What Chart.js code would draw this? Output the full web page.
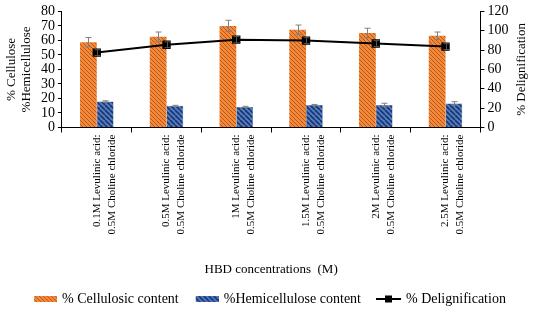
<!DOCTYPE html>
<html>
<head>
<meta charset="utf-8">
<script src="https://cdn.jsdelivr.net/npm/chart.js@4.4.1/dist/chart.umd.min.js"></script>
<style>
  html, body { margin: 0; padding: 0; background: #fff; }
  #wrap { width: 533px; height: 313px; }
</style>
</head>
<body>
<div id="wrap"><canvas id="my-chart" width="533" height="313"></canvas></div>
<script>
'use strict';

// ******* DATA *********
let categories = [
  ['0.1M Levulinic acid:', '0.5M Choline chloride'],
  ['0.5M Levulinic acid:', '0.5M Choline chloride'],
  ['1M Levulinic acid:', '0.5M Choline chloride'],
  ['1.5M Levulinic acid:', '0.5M Choline chloride'],
  ['2M Levulinic acid:', '0.5M Choline chloride'],
  ['2.5M Levulinic acid:', '0.5M Choline chloride']
];
let celluloseValues = [58.8, 62.5, 70.0, 67.3, 65.1, 63.2];
let celluloseErrors = [3.2, 3.3, 3.9, 3.3, 3.3, 2.6];
let hemiValues = [17.9, 14.9, 14.2, 15.5, 15.5, 16.6];
let hemiErrors = [0.5, 0.4, 0.4, 0.4, 1.2, 1.2];
let delignValues = [77.4, 85.5, 90.8, 89.8, 86.8, 83.6];
let delignErrors = [3.0, 3.0, 3.2, 3.0, 3.0, 3.0];
let leftTicks = [0, 80, 10];   // min, max, step
let rightTicks = [0, 120, 20];
let rightTitle = '% Delignification';

const FONT = "'Liberation Serif', 'Times New Roman', serif";

// ******* HATCH PATTERNS *******
function makeHatch(base, stripe, lineW, gap) {
  let c = document.createElement('canvas');
  c.width = gap;
  c.height = gap;
  let g = c.getContext('2d');
  g.fillStyle = base;
  g.fillRect(0, 0, gap, gap);
  g.strokeStyle = stripe;
  g.lineWidth = lineW;
  // "\" direction diagonal stripes, tiled
  for (let k = -1; k <= 1; k++) {
    g.beginPath();
    g.moveTo(k * gap, 0);
    g.lineTo(k * gap + gap, gap);
    g.stroke();
  }
  return g.createPattern(c, 'repeat');
}

let ctx = document.getElementById('my-chart');
let orangeHatch = makeHatch('#f08a3c', '#c4530f', 1, 4);
let blueHatch = makeHatch('#4f7dcc', '#1d3461', 1.6, 5);

// ******* LEGEND MARKERS *******
// the marker sits at the right end of a slightly wider image so it ends up close to its text
const MARK_W = 30;
function legendBox(fill) {
  let c = document.createElement('canvas');
  c.width = MARK_W;
  c.height = 6;
  let g = c.getContext('2d');
  g.fillStyle = fill;
  g.fillRect(MARK_W - 23, 0, 23, 6);
  return c;
}
function legendLine() {
  let c = document.createElement('canvas');
  c.width = MARK_W;
  c.height = 8;
  let g = c.getContext('2d');
  g.strokeStyle = '#000';
  g.lineWidth = 2;
  g.beginPath();
  g.moveTo(MARK_W - 25, 4);
  g.lineTo(MARK_W, 4);
  g.stroke();
  g.fillStyle = '#000';
  g.fillRect(MARK_W - 16, 0.5, 7, 7);
  return c;
}

// ******* ERROR BARS PLUGIN *******
let errorBars = {
  id: 'errorBars',
  afterDatasetDraw(chart, args) {
    let ds = chart.data.datasets[args.index];
    if (!ds.errors) return;
    let meta = args.meta;
    let yScale = chart.scales[ds.yAxisID];
    let c = chart.ctx;
    c.save();
    c.strokeStyle = ds.errorColor || '#808080';
    c.lineWidth = 1;
    for (let i = 0; i < ds.data.length; i++) {
      let x = Math.round(meta.data[i].x) + 0.5;
      let top = yScale.getPixelForValue(ds.data[i] + ds.errors[i]);
      let bot = yScale.getPixelForValue(ds.data[i] - ds.errors[i]);
      c.beginPath();
      c.moveTo(x, top);
      c.lineTo(x, bot);
      c.moveTo(x - 3, top);
      c.lineTo(x + 3, top);
      c.moveTo(x - 3, bot);
      c.lineTo(x + 3, bot);
      c.stroke();
    }
    c.restore();
  }
};

// right axis title reads bottom-to-top, like the left one
let rightTitlePlugin = {
  id: 'rightTitle',
  afterDraw(chart) {
    let area = chart.chartArea;
    let c = chart.ctx;
    c.save();
    c.translate(chart.scales.y1.right - 9, (area.top + area.bottom) / 2);
    c.rotate(-Math.PI / 2);
    c.fillStyle = '#000';
    c.font = '13px ' + FONT;
    c.textAlign = 'center';
    c.textBaseline = 'middle';
    c.fillText(rightTitle, 0, 0);
    c.restore();
  }
};

let chartObj = {
  type: 'bar',
  data: {
    labels: categories,
    datasets: [
      {
        type: 'line',
        label: '% Delignification',
        data: delignValues,
        errors: delignErrors,
        errorColor: '#555555',
        yAxisID: 'y1',
        borderColor: '#000',
        backgroundColor: '#000',
        borderWidth: 2,
        pointStyle: 'rect',
        pointRadius: 4.5,
        pointBackgroundColor: '#000',
        order: 0,
        legendMarker: legendLine()
      },
      {
        label: '% Cellulosic content',
        data: celluloseValues,
        errors: celluloseErrors,
        yAxisID: 'y',
        backgroundColor: orangeHatch,
        borderWidth: 0,
        order: 1,
        legendMarker: legendBox(orangeHatch)
      },
      {
        label: '%Hemicellulose content',
        data: hemiValues,
        errors: hemiErrors,
        yAxisID: 'y',
        backgroundColor: blueHatch,
        borderColor: '#3a5f9e',
        borderWidth: 0.5,
        order: 2,
        legendMarker: legendBox(blueHatch)
      }
    ]
  },
  plugins: [errorBars, rightTitlePlugin],
  options: {
    responsive: false,
    animation: false,
    layout: { padding: { left: 4, right: 2, top: 0, bottom: -3 } },
    datasets: {
      bar: { categoryPercentage: 0.48, barPercentage: 1 }
    },
    plugins: {
      tooltip: { enabled: false },
      legend: {
        position: 'bottom',
        labels: {
          usePointStyle: true,
          pointStyleWidth: 26,
          padding: 12,
          color: '#000',
          font: { family: FONT, size: 14 },
          generateLabels(chart) {
            let order = [1, 2, 0];
            return order.map(function (i) {
              let ds = chart.data.datasets[i];
              return {
                text: ds.label,
                pointStyle: ds.legendMarker,
                fillStyle: ds.backgroundColor,
                strokeStyle: 'transparent',
                lineWidth: 0,
                hidden: false,
                datasetIndex: i
              };
            });
          }
        }
      }
    },
    scales: {
      x: {
        offset: true,
        grid: { display: true, drawOnChartArea: false, offset: true, color: '#000', tickLength: 5 },
        border: { color: '#000', width: 1 },
        ticks: {
          minRotation: 90,
          maxRotation: 90,
          autoSkip: false,
          color: '#000',
          padding: 2,
          font: { family: FONT, size: 11, lineHeight: 1.35 }
        },
        title: {
          display: true,
          text: 'HBD concentrations  (M)',
          color: '#000',
          font: { family: FONT, size: 13 },
          padding: { top: 25, bottom: 3 }
        }
      },
      y: {
        position: 'left',
        min: leftTicks[0],
        max: leftTicks[1],
        grid: { display: true, drawOnChartArea: false, color: '#000', tickLength: 4 },
        border: { color: '#000', width: 1 },
        ticks: { stepSize: leftTicks[2], autoSkip: false, color: '#000', padding: 3, font: { family: FONT, size: 14 } },
        title: {
          display: true,
          text: ['% Cellulose', '%Hemicellulose'],
          color: '#000',
          font: { family: FONT, size: 13, lineHeight: 1.15 },
          padding: { top: 0, bottom: 4 }
        }
      },
      y1: {
        position: 'right',
        min: rightTicks[0],
        max: rightTicks[1],
        grid: { display: true, drawOnChartArea: false, color: '#000', tickLength: 4 },
        border: { color: '#000', width: 1 },
        ticks: { stepSize: rightTicks[2], autoSkip: false, color: '#000', padding: 3, font: { family: FONT, size: 14 } },
        title: {
          // space is kept here; the text itself is drawn by rightTitlePlugin
          display: true,
          text: rightTitle,
          color: 'rgba(0,0,0,0)',
          font: { family: FONT, size: 13 },
          padding: { top: 4, bottom: 0 }
        }
      }
    }
  }
};

new Chart(ctx, chartObj); //eslint-disable-line
</script>
</body>
</html>
